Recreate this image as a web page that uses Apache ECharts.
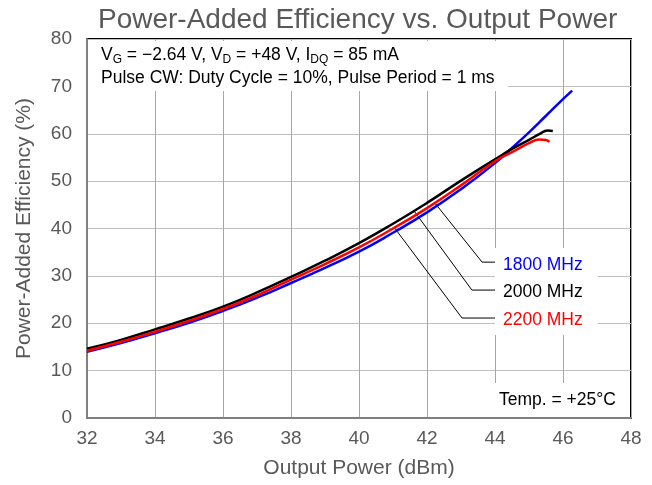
<!DOCTYPE html>
<html>
<head>
<meta charset="utf-8">
<script src="https://cdn.jsdelivr.net/npm/echarts@6/dist/echarts.min.js"></script>
<style>
  html, body { margin: 0; padding: 0; background: #fff; }
  #chart { width: 652px; height: 485px; }
</style>
</head>
<body>
<div id="chart"></div>
<script>
// PAE curves: [Pout dBm, PAE %]
var pae1800 = [[32,14.0],[33,15.8],[34,17.9],[35,20.1],[36,22.6],[37,25.4],[38,28.5],[39,31.7],[40,35.1],[41,39.1],[42,43.4],[43,48.3],[44,53.8],[44.5,57.0],[45,60.3],[45.5,63.8],[46,67.3],[46.27,69.1]];
var pae2000 = [[32,14.6],[33,16.5],[34,18.7],[35,21.0],[36,23.5],[37,26.5],[38,29.8],[39,33.2],[40,36.9],[41,41.0],[42,45.4],[43,50.1],[44,54.6],[44.5,56.8],[45,58.7],[45.3,59.9],[45.55,60.7],[45.7,60.6]];
var pae2200 = [[32,14.2],[33,16.1],[34,18.2],[35,20.5],[36,23.0],[37,25.9],[38,29.2],[39,32.5],[40,36.0],[41,40.0],[42,44.3],[43,49.1],[44,54.2],[44.5,56.1],[45,58.0],[45.3,58.8],[45.5,58.7],[45.6,58.3]];

// leader lines from each curve to its label
var lead1800 = [[42.24,45.3],[43.62,32.9],[44.0,32.9]];
var lead2000 = [[41.6,43.9],[43.32,27.0],[44.0,27.0]];
var lead2200 = [[41.06,40.0],[43.03,21.1],[44.0,21.1]];

var seriesNames = ['1800 MHz', '2000 MHz', '2200 MHz'];
var seriesColors = ['#0000ff', '#000000', '#ff0000'];

var chart = echarts.init(document.getElementById('chart'));
var FONT = 'Liberation Sans';

function curve(name, data, color) {
  return {
    name: name, type: 'line', data: data, smooth: true, showSymbol: false,
    lineStyle: { color: color, width: 2.5 }, silent: true, z: 5
  };
}
function leader(data) {
  return {
    type: 'line', data: data, showSymbol: false, silent: true,
    lineStyle: { color: '#000', width: 1 }, z: 4
  };
}
function label(text, y, color) {
  return {
    type: 'text', x: 503, y: y, z: 6,
    style: { text: text, fontFamily: FONT, fontSize: 17.5, fill: color, verticalAlign: 'middle' }
  };
}

var option = {
  animation: false,
  title: {
    text: 'Power-Added Efficiency vs. Output Power',
    left: 93, top: 1,
    textStyle: { fontFamily: FONT, fontSize: 28, fontWeight: 'normal', color: '#595959' }
  },
  grid: {
    left: 87, right: 21, top: 39, bottom: 67,
    show: true, borderColor: '#000', borderWidth: 2, backgroundColor: '#fff'
  },
  xAxis: {
    type: 'value', min: 32, max: 48, interval: 2,
    name: 'Output Power (dBm)', nameLocation: 'middle', nameGap: 40,
    nameTextStyle: { fontFamily: FONT, fontSize: 21, color: '#595959' },
    axisLine: { show: true, lineStyle: { color: '#808080', width: 2 } },
    axisTick: { show: false },
    axisLabel: { fontFamily: FONT, fontSize: 19, color: '#595959', margin: 11 },
    splitLine: { lineStyle: { color: '#a6a6a6', width: 1 } }
  },
  yAxis: {
    type: 'value', min: 0, max: 80, interval: 10,
    name: 'Power-Added Efficiency (%)', nameLocation: 'middle', nameGap: 52,
    nameTextStyle: { fontFamily: FONT, fontSize: 21, color: '#595959' },
    axisLine: { show: true, lineStyle: { color: '#808080', width: 2 } },
    axisTick: { show: false },
    axisLabel: { fontFamily: FONT, fontSize: 19, color: '#595959', margin: 15 },
    splitLine: { lineStyle: { color: '#bfbfbf', width: 1 } }
  },
  series: [
    leader(lead1800), leader(lead2000), leader(lead2200),
    curve(seriesNames[0], pae1800, seriesColors[0]),
    curve(seriesNames[1], pae2000, seriesColors[1]),
    curve(seriesNames[2], pae2200, seriesColors[2])
  ],
  graphic: [
    // bias conditions box
    { type: 'rect', shape: { x: 88, y: 41, width: 420, height: 50 }, style: { fill: '#fff' }, z: 3 },
    {
      type: 'text', x: 101, y: 44, z: 6,
      style: {
        text: 'V{sub|G} = \u22122.64 V, V{sub|D} = +48 V, I{sub|DQ} = 85 mA\nPulse CW: Duty Cycle = 10%, Pulse Period = 1 ms',
        fontFamily: FONT, fontSize: 17.5, lineHeight: 23, fill: '#000',
        rich: { sub: { fontSize: 12, lineHeight: 12, padding: [10, 0, 0, 0], verticalAlign: 'top', fontFamily: FONT, fill: '#000' } }
      }
    },
    // legend labels box
    { type: 'rect', shape: { x: 495, y: 248, width: 103, height: 87 }, style: { fill: '#fff' }, z: 3 },
    label(seriesNames[0], 265, seriesColors[0]),
    label(seriesNames[1], 292, seriesColors[1]),
    label(seriesNames[2], 320, seriesColors[2]),
    // temperature box
    { type: 'rect', shape: { x: 493, y: 383, width: 137, height: 34 }, style: { fill: '#fff' }, z: 3 },
    { type: 'text', x: 499, y: 400, z: 6, style: { text: 'Temp. = +25\u00b0C', fontFamily: FONT, fontSize: 17.5, fill: '#000', verticalAlign: 'middle' } }
  ]
};
chart.setOption(option);
</script>
</body>
</html>
